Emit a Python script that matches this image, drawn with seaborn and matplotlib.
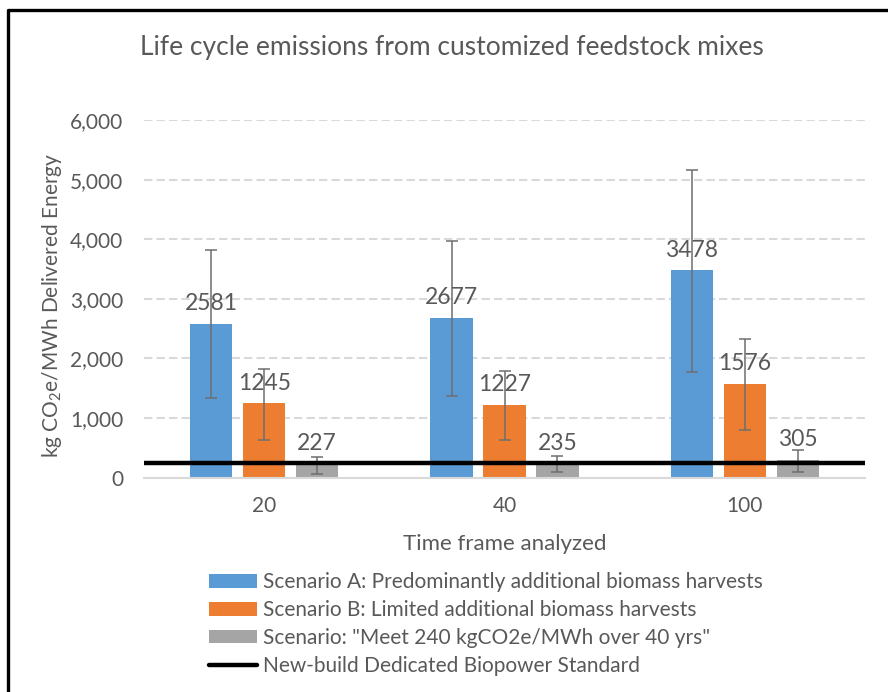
import matplotlib
matplotlib.use("Agg")
import matplotlib.pyplot as plt
from matplotlib.lines import Line2D
from matplotlib.patches import Patch
import seaborn as sns
import pandas as pd

# ---- data ----
timeframes = ["20", "40", "100"]
scenarios = [
    "Scenario A: Predominantly additional biomass harvests",
    "Scenario B: Limited additional biomass harvests",
    'Scenario: "Meet 240 kgCO2e/MWh over 40 yrs"',
]
values_a = [2581, 2677, 3478]
values_b = [1245, 1227, 1576]
values_c = [227, 235, 305]
low_a = [1330, 1365, 1765]
high_a = [3815, 3975, 5160]
low_b = [640, 625, 805]
high_b = [1830, 1795, 2320]
low_c = [70, 90, 100]
high_c = [355, 360, 470]
standard_value = 240
standard_label = "New-build Dedicated Biopower Standard"

colors = ["#5B9BD5", "#ED7D31", "#A5A5A5"]

values = [values_a, values_b, values_c]
lows = [low_a, low_b, low_c]
highs = [high_a, high_b, high_c]

rows = []
for s, vals in zip(scenarios, values):
    for t, v in zip(timeframes, vals):
        rows.append({"timeframe": t, "scenario": s, "value": v})
df = pd.DataFrame(rows)

# ---- style ----
sns.set_theme(style="white")
FONT = ["Lato", "DejaVu Sans"]
plt.rcParams["font.family"] = FONT
plt.rcParams["mathtext.fontset"] = "custom"
plt.rcParams["mathtext.rm"] = "Lato"
plt.rcParams["mathtext.it"] = "Lato:italic"
TXT = "#595959"

fig = plt.figure(figsize=(8.88, 6.92), dpi=100)
ax = fig.add_axes([144 / 888, 1 - 477.7 / 692, (865 - 144) / 888, (477.7 - 120) / 692])

sns.barplot(data=df, x="timeframe", y="value", hue="scenario",
            order=timeframes, hue_order=scenarios, palette=colors,
            saturation=1, width=0.66, gap=0.2, errorbar=None, legend=False,
            linewidth=0, ax=ax)

bar_containers = list(ax.containers)

# error bars & value labels
for i, cont in enumerate(bar_containers):
    for j, bar in enumerate(cont.patches):
        xc = bar.get_x() + bar.get_width() / 2
        v = values[i][j]
        ax.errorbar(xc, v, yerr=[[v - lows[i][j]], [highs[i][j] - v]],
                    fmt="none", ecolor="#6E6E6E", elinewidth=1.1,
                    capsize=4.5, capthick=1.1, zorder=4)
        ax.annotate(f"{v}", (xc, v), xytext=(0, 7), textcoords="offset points",
                    ha="center", va="bottom", fontsize=16.5, color=TXT, zorder=5)

ax.axhline(standard_value, color="black", lw=3.2, zorder=6)

ax.set_xlim(-0.5, len(timeframes) - 0.5)
ax.set_ylim(0, 6000)
ax.set_yticks(range(0, 6001, 1000))
ax.set_yticklabels([f"{v:,}" for v in range(0, 6001, 1000)])
ax.yaxis.grid(True, color="#D9D9D9", linestyle=(0, (4, 2)), linewidth=1.5)
ax.set_axisbelow(True)
for s in ["top", "right", "left"]:
    ax.spines[s].set_visible(False)
ax.spines["bottom"].set_color("#D9D9D9")
ax.spines["bottom"].set_linewidth(1.5)
ax.tick_params(axis="both", length=0, labelsize=15, labelcolor=TXT)
ax.tick_params(axis="x", pad=13)
ax.tick_params(axis="y", pad=15)

ax.set_xlabel("")
ax.set_ylabel("")
fig.text(505 / 888, 1 - 544 / 692, "Time frame analyzed",
         ha="center", va="center", fontsize=16, color=TXT)
fig.text(52 / 888, 1 - 305 / 692, r"kg CO$_2$e/MWh Delivered Energy",
         rotation=90, ha="center", va="center", fontsize=15, color=TXT)

fig.text(452 / 888, 1 - 47 / 692, "Life cycle emissions from customized feedstock mixes",
         ha="center", va="center", fontsize=19, color=TXT)

handles = [Patch(facecolor=c, edgecolor="none") for c in colors]
handles.append(Line2D([0], [0], color="black", lw=3.2))
labels = scenarios + [standard_label]
fig.legend(handles, labels, loc="upper left", bbox_to_anchor=(209 / 888, 1 - 572 / 692),
           frameon=False, fontsize=15, handlelength=2.3, handleheight=0.65,
           handletextpad=0.3, labelspacing=0.38, borderaxespad=0, borderpad=0,
           labelcolor=TXT)

# outer border (left and top)
fig.add_artist(Line2D([7.5 / 888, 7.5 / 888, 1.0], [0.0, 1 - 10 / 692, 1 - 10 / 692],
                      transform=fig.transFigure, color="black", lw=2.4))

fig.savefig("out.png", dpi=100)
